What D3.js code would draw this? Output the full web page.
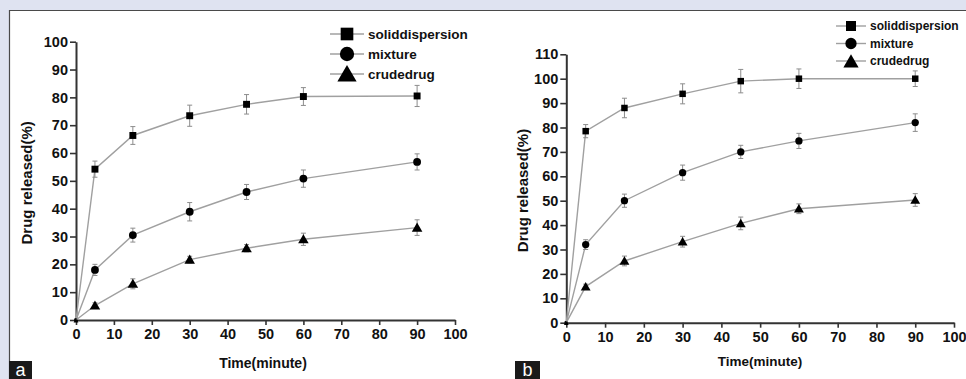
<!DOCTYPE html>
<html>
<head>
<meta charset="utf-8">
<script src="https://cdn.jsdelivr.net/npm/d3@7"></script>
<style>
  body { margin: 0; background: #dfe3f1; }
  text { font-family: "Liberation Sans", Arial, sans-serif; }
</style>
</head>
<body>
<div id="chart"></div>
<script>
// sampling times (minutes)
const times = [0, 5, 15, 30, 45, 60, 90]
const xTicks = [0, 10, 20, 30, 40, 50, 60, 70, 80, 90, 100]
const yTicksA = [0, 10, 20, 30, 40, 50, 60, 70, 80, 90, 100]
const yTicksB = [0, 10, 20, 30, 40, 50, 60, 70, 80, 90, 100, 110]
const seriesNames = ["soliddispersion", "mixture", "crudedrug"]

// panel a
const aSolid = [0, 54.2, 66.3, 73.4, 77.5, 80.3, 80.5]
const aSolidErr = [0, 2.9, 3.2, 3.8, 3.5, 3.2, 3.8]
const aMixture = [0, 18, 30.5, 38.9, 46, 50.8, 56.8]
const aMixtureErr = [0, 2, 2.5, 3.3, 2.7, 3.1, 2.9]
const aCrude = [0, 5.2, 13, 21.7, 25.8, 29, 33.2]
const aCrudeErr = [0, 1, 1.8, 1.2, 1.3, 2.2, 2.8]

// panel b
const bSolid = [0, 78.5, 88, 93.8, 99, 100, 100]
const bSolidErr = [0, 2.7, 4, 4.1, 4.8, 4, 3.2]
const bMixture = [0, 32, 50, 61.5, 70, 74.5, 82]
const bMixtureErr = [0, 2, 2.7, 3.1, 2.7, 3.1, 3.6]
const bCrude = [0, 14.8, 25.3, 33.2, 40.7, 46.7, 50.3]
const bCrudeErr = [0, 1, 2, 2.2, 2.6, 2, 2.6]

const W = 966, H = 379
const svg = d3.select("#chart").append("svg")
    .attr("width", W)
    .attr("height", H)

svg.append("rect").attr("width", W).attr("height", H).attr("fill", "#dfe3f1")
svg.append("rect").attr("x", 9).attr("y", 10).attr("width", W - 9).attr("height", H - 10).attr("fill", "#fff")
svg.append("path").attr("d", `M9.5,${H}V10.5H${W}`).attr("fill", "none").attr("stroke", "#4a4a4a").attr("stroke-width", 1.2)

const symbols = [d3.symbolSquare, d3.symbolCircle, d3.symbolTriangle]

function drawPanel(p) {
    const x = d3.scaleLinear().domain([0, 100]).range([p.x0, p.x1])
    const y = d3.scaleLinear().domain([0, p.yMax]).range([p.y0, p.y1])
    const g = svg.append("g")

    // axes
    const xAxis = g.append("g")
        .attr("transform", `translate(0,${p.y0})`)
        .call(d3.axisBottom(x).tickValues(xTicks).tickSize(5).tickPadding(4).tickSizeOuter(0))
    const yAxis = g.append("g")
        .attr("transform", `translate(${p.x0},0)`)
        .call(d3.axisLeft(y).tickValues(p.yTicks).tickSize(6).tickPadding(2).tickSizeOuter(0))
    for (const ax of [xAxis, yAxis]) {
        ax.select(".domain").attr("stroke", "#333").attr("stroke-width", 2)
        ax.selectAll(".tick line").attr("stroke", "#333").attr("stroke-width", 1.6)
        ax.selectAll(".tick text")
            .attr("fill", "#111")
            .style("font-size", "14.5px")
            .style("font-weight", "bold")
            .style("font-family", "'Liberation Sans', Arial, sans-serif")
    }

    // series
    const line = d3.line().x((d, i) => x(times[i])).y(d => y(d))
    p.series.forEach((s, k) => {
        g.append("path")
            .datum(s.values)
            .attr("d", line)
            .attr("fill", "none")
            .attr("stroke", "#a0a0a0")
            .attr("stroke-width", 1.4)

        // error bars
        const eb = g.append("g").attr("stroke", "#8c8c8c").attr("stroke-width", 1)
        s.values.forEach((v, i) => {
            const e = s.err[i]
            if (!e) return
            const cx = x(times[i])
            eb.append("line").attr("x1", cx).attr("x2", cx).attr("y1", y(v - e)).attr("y2", y(v + e))
            eb.append("line").attr("x1", cx - 2.5).attr("x2", cx + 2.5).attr("y1", y(v - e)).attr("y2", y(v - e))
            eb.append("line").attr("x1", cx - 2.5).attr("x2", cx + 2.5).attr("y1", y(v + e)).attr("y2", y(v + e))
        })

        g.append("g").selectAll("path")
            .data(s.values)
            .join("path")
            .attr("transform", (d, i) => `translate(${x(times[i])},${y(d) + (k === 2 ? 1 : 0)})`)
            .attr("d", (d, i) => d3.symbol(symbols[k], i === 0 ? 10 : p.markSize)())
            .attr("fill", "#000")
    })

    // axis titles
    g.append("text")
        .attr("transform", `translate(${p.yTitleX},${(p.y0 + p.y1) / 2 + 2}) rotate(-90)`)
        .attr("text-anchor", "middle")
        .style("font-size", "15px")
        .style("font-weight", "bold")
        .attr("fill", "#111")
        .text("Drug released(%)")
    g.append("text")
        .attr("x", p.xTitleX)
        .attr("y", p.xTitleY)
        .attr("text-anchor", "middle")
        .style("font-size", p.xTitleSize + "px")
        .style("font-weight", "bold")
        .attr("fill", "#111")
        .text("Time(minute)")

    // legend
    const legend = g.append("g")
    seriesNames.forEach((name, k) => {
        const ly = p.legY + k * p.legStep
        legend.append("line")
            .attr("x1", p.legX - p.legHalf).attr("x2", p.legX + p.legHalf)
            .attr("y1", ly).attr("y2", ly)
            .attr("stroke", "#a0a0a0").attr("stroke-width", 1.4)
        legend.append("path")
            .attr("transform", `translate(${p.legX},${ly + (k === 2 ? 2 : 0)})`)
            .attr("d", d3.symbol(symbols[k], p.legMark)())
            .attr("fill", "#000")
        legend.append("text")
            .attr("x", p.legX + p.legHalf + 4)
            .attr("y", ly)
            .attr("dy", "0.36em")
            .style("font-size", p.legFont + "px")
            .style("font-weight", "bold")
            .attr("fill", "#111")
            .text(name)
    })

    // panel letter
    svg.append("rect").attr("x", p.tagX).attr("y", 361).attr("width", p.tagW).attr("height", 18).attr("fill", "#1a1a1a")
    svg.append("text")
        .attr("x", p.tagX + p.tagW / 2)
        .attr("y", 376)
        .attr("text-anchor", "middle")
        .style("font-size", "18px")
        .attr("fill", "#fff")
        .text(p.tag)
}

drawPanel({
    x0: 76, x1: 455, y0: 320, y1: 41.7, yMax: 100, yTicks: yTicksA,
    series: [
        { values: aSolid, err: aSolidErr },
        { values: aMixture, err: aMixtureErr },
        { values: aCrude, err: aCrudeErr }
    ],
    markSize: 48,
    yTitleX: 32, xTitleX: 263, xTitleY: 368, xTitleSize: 14,
    legX: 347, legY: 34, legStep: 20, legHalf: 17, legMark: 160, legFont: 13.5,
    tagX: 9, tagW: 23, tag: "a"
})

drawPanel({
    x0: 566.3, x1: 954, y0: 322.7, y1: 54.3, yMax: 110, yTicks: yTicksB,
    series: [
        { values: bSolid, err: bSolidErr },
        { values: bMixture, err: bMixtureErr },
        { values: bCrude, err: bCrudeErr }
    ],
    markSize: 42,
    yTitleX: 528, xTitleX: 760, xTitleY: 366, xTitleSize: 13.5,
    legX: 851, legY: 26, legStep: 17.5, legHalf: 15, legMark: 100, legFont: 12,
    tagX: 515, tagW: 25, tag: "b"
})
</script>
</body>
</html>
